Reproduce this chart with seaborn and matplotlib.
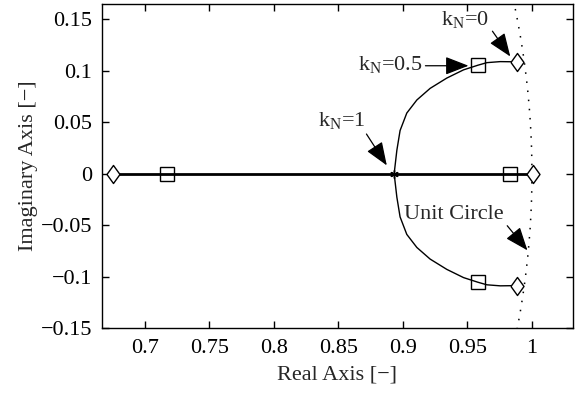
import numpy as np
import pandas as pd
import matplotlib
matplotlib.use("Agg")
import matplotlib.pyplot as plt
import seaborn as sns

# Upper branch of the complex locus, mirrored for lower branch
arc_re = [0.8932, 0.8953, 0.8978, 0.9030, 0.9108, 0.9211, 0.9340, 0.9470, 0.9581, 0.9651, 0.9754, 0.9884]
arc_im = [0.0, 0.0228, 0.042, 0.059, 0.0717, 0.083, 0.093, 0.101, 0.1055, 0.108, 0.109, 0.1088]

# Real-axis branch
real_re = [0.6754, 0.7168, 0.8932, 0.9832, 1.0005]
real_im = [0.0, 0.0, 0.0, 0.0, 0.0]

# Markers: kN = 0 (diamonds), kN = 0.5 (squares), kN = 1 (star)
k0_re = [0.6754, 0.9884, 0.9884, 1.0005]
k0_im = [0.0, 0.1088, -0.1088, 0.0]
k05_re = [0.7168, 0.9581, 0.9581, 0.9832]
k05_im = [0.0, 0.1055, -0.1055, 0.0]
k1_re = [0.8932]
k1_im = [0.0]

# Unit circle sample ordinates
uc_im = [-0.16, -0.12, -0.08, -0.04, 0.0, 0.04, 0.08, 0.12, 0.17]

sns.set_style("ticks")
plt.rcParams['font.family'] = ['Liberation Serif', 'DejaVu Serif']
plt.rcParams['mathtext.fontset'] = 'custom'
plt.rcParams['mathtext.rm'] = 'Liberation Serif'
plt.rcParams['mathtext.it'] = 'Liberation Serif'
fs = 16

fig = plt.figure(figsize=(5.79, 3.94), dpi=100)
ax = fig.add_axes([0.176, 0.1675, 0.8136, 0.8223])

# unit circle
uc_y = np.linspace(min(uc_im), max(uc_im), 200)
uc_x = np.sqrt(1 - uc_y ** 2)
ax.plot(uc_x, uc_y, color='black', linestyle=(0, (1, 5)), linewidth=1.1)

upper = pd.DataFrame({'re': arc_re, 'im': arc_im})
lower = pd.DataFrame({'re': arc_re, 'im': [-v for v in arc_im]})
sns.lineplot(data=upper, x='re', y='im', sort=False, color='black', linewidth=1.0, ax=ax)
sns.lineplot(data=lower, x='re', y='im', sort=False, color='black', linewidth=1.0, ax=ax)
realdf = pd.DataFrame({'re': real_re, 'im': real_im})
sns.lineplot(data=realdf, x='re', y='im', sort=False, color='black', linewidth=2.0, ax=ax)

diamond = [(-0.72, 0), (0, 1), (0.72, 0), (0, -1), (-0.72, 0)]
ax.plot(k0_re, k0_im, linestyle='none', marker=diamond, markersize=13, markerfacecolor='white',
        markeredgecolor='black', markeredgewidth=1.0)
ax.plot(k05_re, k05_im, linestyle='none', marker='s', markersize=10, markerfacecolor='none',
        markeredgecolor='black', markeredgewidth=1.0)
ax.plot(k1_re, k1_im, linestyle='none', marker=(6, 2, 0), markersize=6,
        markeredgecolor='black', markeredgewidth=1.0)

ax.set_xlim(0.6667, 1.0318)
ax.set_ylim(-0.15, 0.165)
ax.set_xticks([0.7, 0.75, 0.8, 0.85, 0.9, 0.95, 1.0])
ax.set_xticklabels(['0.7', '0.75', '0.8', '0.85', '0.9', '0.95', '1'])
ax.set_yticks([-0.15, -0.1, -0.05, 0, 0.05, 0.1, 0.15])
ax.set_yticklabels(['\u22120.15', '\u22120.1', '\u22120.05', '0', '0.05', '0.1', '0.15'])
ax.tick_params(direction='in', top=True, right=True, length=5, width=1,
               labelsize=fs, colors='black')
ax.tick_params(axis='y', pad=7)
ax.tick_params(axis='x', pad=8)
for s in ax.spines.values():
    s.set_linewidth(1.0)
    s.set_color('black')
ax.set_xlabel('Real Axis [\u2212]', fontsize=fs, labelpad=5)
ax.set_ylabel('Imaginary Axis [\u2212]', fontsize=fs, labelpad=2)

ap = dict(arrowstyle='-|>,head_length=0.9,head_width=0.35', color='black', lw=0.9,
          shrinkA=0, shrinkB=0)
ax.annotate('k$_{\\mathrm{N}}$=0', xy=(0.9832, 0.114), xytext=(0.9483, 0.150),
            fontsize=fs, ha='center', va='center', arrowprops=dict(ap, relpos=(1.05, 0)))
ax.annotate('k$_{\\mathrm{N}}$=0.5', xy=(0.9508, 0.105), xytext=(0.9149, 0.106),
            fontsize=fs, ha='right', va='center', arrowprops=dict(ap, relpos=(1.05, 0.45)))
ax.annotate('k$_{\\mathrm{N}}$=1', xy=(0.8875, 0.0081), xytext=(0.8528, 0.052),
            fontsize=fs, ha='center', va='center', arrowprops=dict(ap, relpos=(1.0, -0.1)))
ax.annotate('Unit Circle', xy=(0.9965, -0.0745), xytext=(0.9397, -0.0398),
            fontsize=fs, ha='center', va='center', arrowprops=dict(ap, relpos=(1.02, 0.0)))

fig.savefig('out.png', dpi=100)
